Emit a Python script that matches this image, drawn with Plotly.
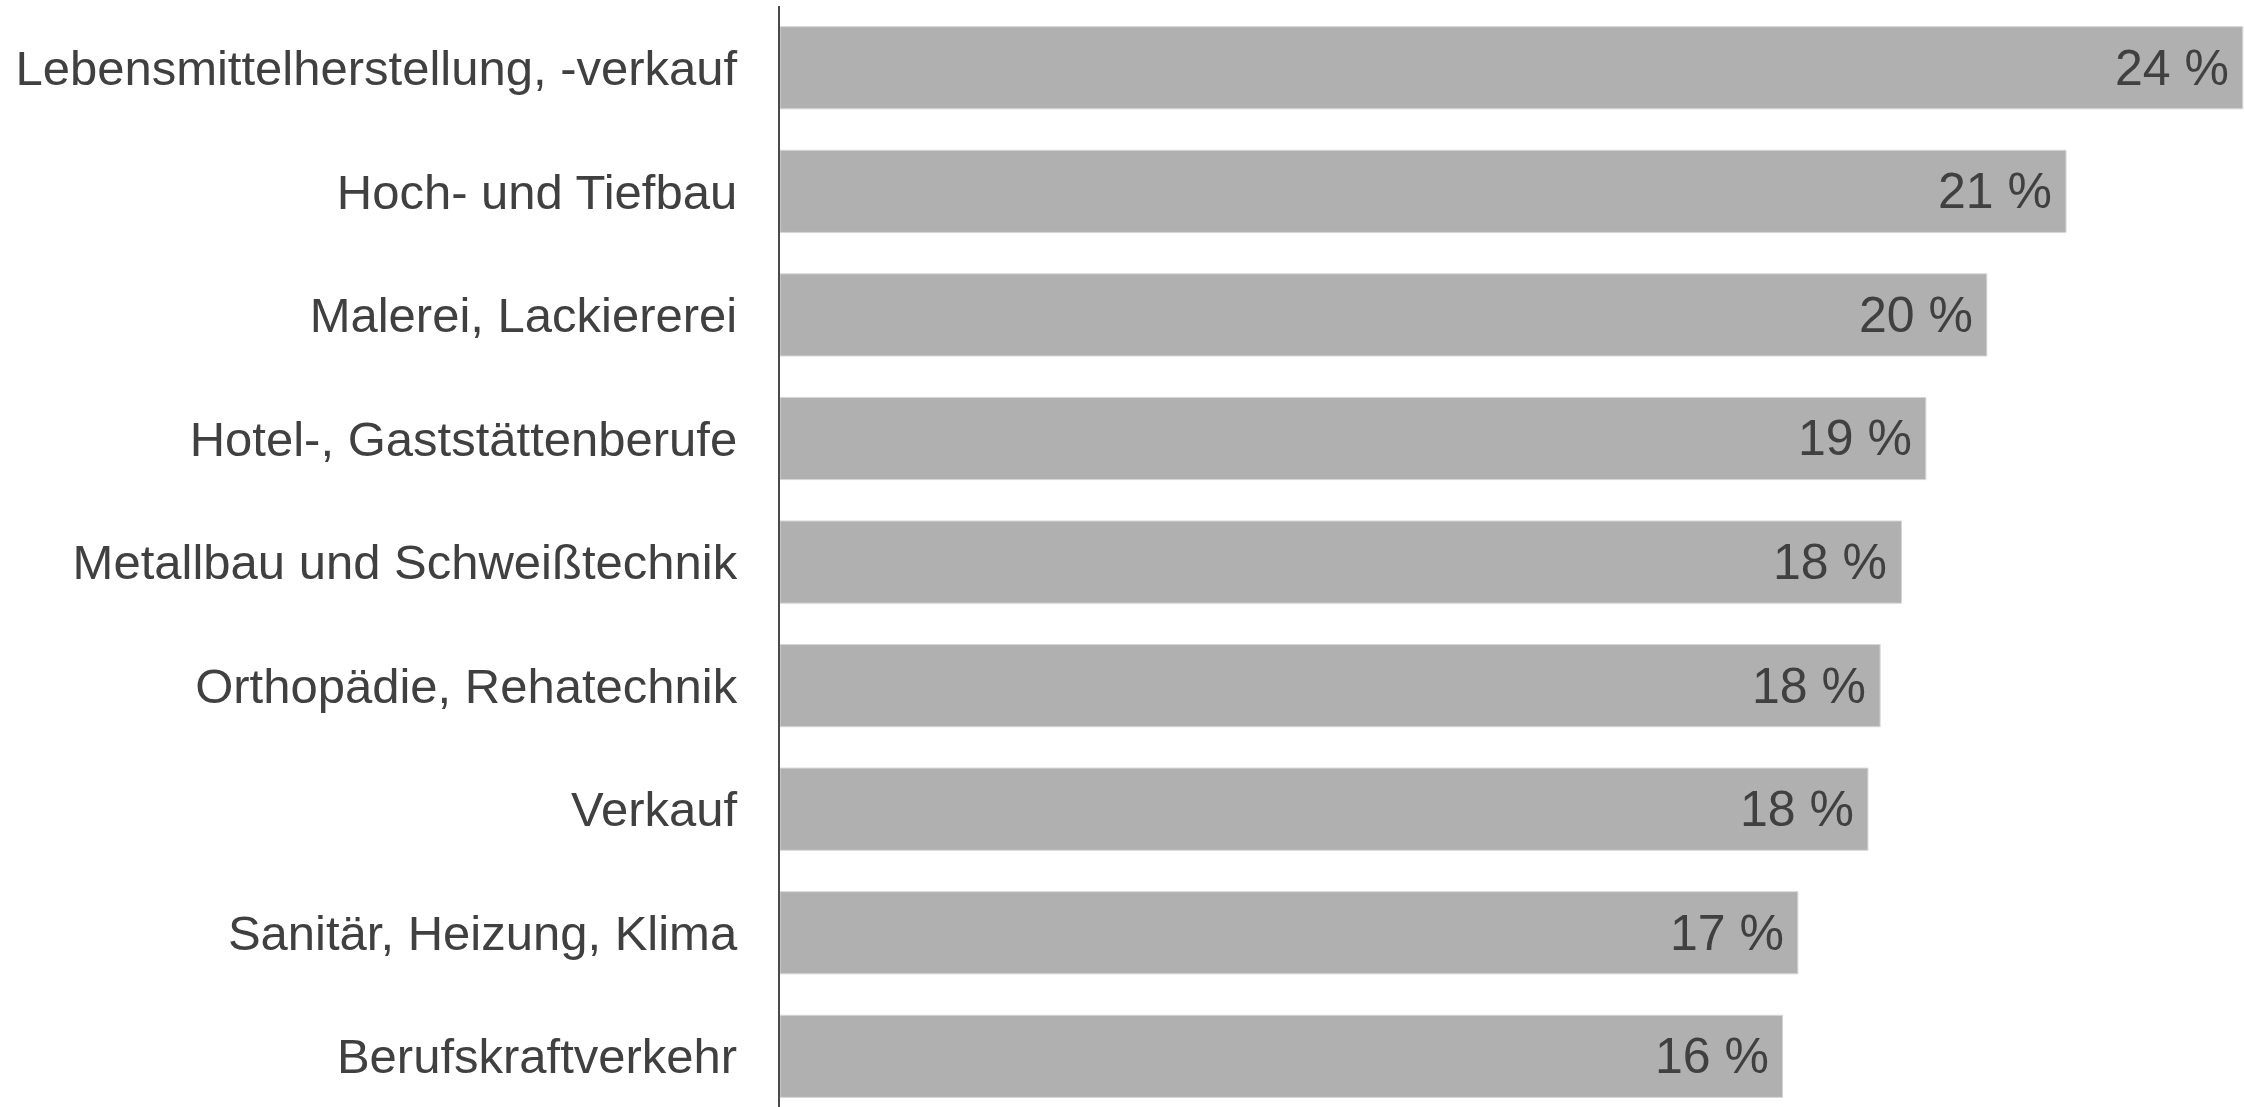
import plotly.graph_objects as go

categories = [
    "Lebensmittelherstellung, -verkauf",
    "Hoch- und Tiefbau",
    "Malerei, Lackiererei",
    "Hotel-, Gaststättenberufe",
    "Metallbau und Schweißtechnik",
    "Orthopädie, Rehatechnik",
    "Verkauf",
    "Sanitär, Heizung, Klima",
    "Berufskraftverkehr",
]
values = [24.0, 21.1, 19.8, 18.8, 18.4, 18.05, 17.85, 16.7, 16.45]
labels = ["24 %", "21 %", "20 %", "19 %", "18 %", "18 %", "18 %", "17 %", "16 %"]

FONT = "Liberation Sans, Arial, sans-serif"
TEXT_COLOR = "#404040"

fig = go.Figure(
    go.Bar(
        x=values,
        y=categories,
        orientation="h",
        marker=dict(color="#b0b0b0", line=dict(color="#d6d6d6", width=1)),
        hoverinfo="skip",
    )
)

for c, v, t in zip(categories, values, labels):
    fig.add_annotation(
        x=v, y=c, text=t, showarrow=False, xanchor="right", yanchor="middle",
        xshift=-12, font=dict(family=FONT, size=50, color=TEXT_COLOR),
    )

fig.update_layout(
    width=2244,
    height=1107,
    margin=dict(l=780, r=0, t=6, b=0),
    paper_bgcolor="white",
    plot_bgcolor="white",
    bargap=0.335,
    showlegend=False,
    font=dict(family=FONT, size=49, color=TEXT_COLOR),
    xaxis=dict(
        range=[0, 24.02],
        visible=False,
        showgrid=False,
        zeroline=False,
    ),
    yaxis=dict(
        categoryorder="array",
        categoryarray=categories,
        range=[len(categories) - 0.59, -0.5],
        showline=True,
        linecolor="#4a4a4a",
        linewidth=2,
        showgrid=False,
        zeroline=False,
        ticks="",
        ticklabelstandoff=31,
        tickfont=dict(family=FONT, size=49, color=TEXT_COLOR),
    ),
)

fig.write_html(
    "out.html",
    config={"displayModeBar": False},
    post_script="document.body.style.margin='0';document.body.style.overflow='hidden';",
)
